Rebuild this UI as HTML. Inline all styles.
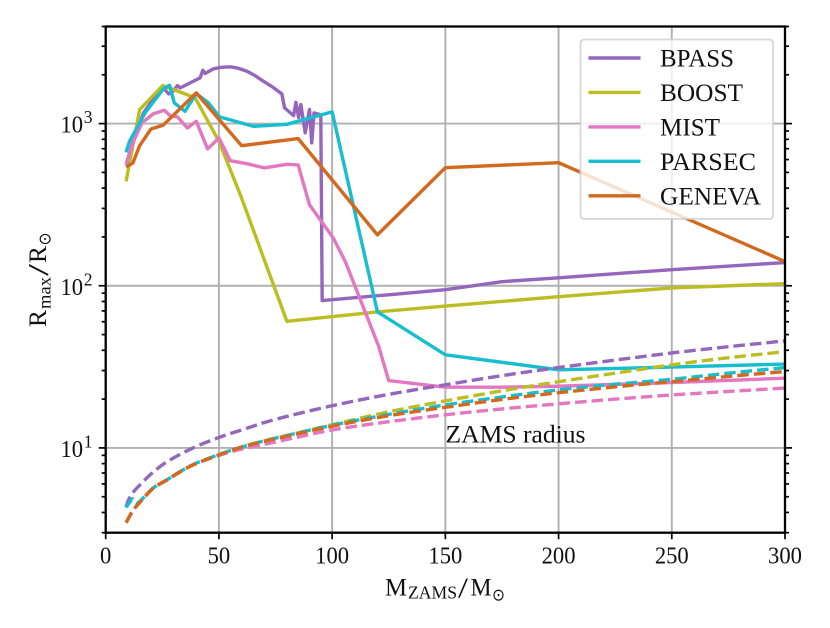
<!DOCTYPE html>
<html lang="en">
<head>
<meta charset="utf-8">
<title>Maximum radius versus ZAMS mass</title>
<style>
html,body{margin:0;padding:0;background:#fff;}
svg{display:block;font-family:"Liberation Serif","DejaVu Serif",serif;}
</style>
</head>
<body>
<svg id="chart" xmlns="http://www.w3.org/2000/svg" width="830" height="628" viewBox="0 0 830 628"></svg>
<script>
const xTicks = [0, 50, 100, 150, 200, 250, 300];
const yDecades = [1, 2, 3];
const yMinorFactors = [2, 3, 4, 5, 6, 7, 8, 9];
const xLimits = [0, 300];
const yLimits = [3, 3970];

const seriesNames = ['BPASS', 'BOOST', 'MIST', 'PARSEC', 'GENEVA'];

const bpassMass = [9, 12.3, 16.7, 21.9, 25.5, 27.8, 29.2, 31.7, 32.9, 41.7, 42.9, 43.9, 47.6, 51, 55, 58.5, 62.4, 66, 69.7, 74, 77.8, 79, 83, 84, 85.2, 86.2, 88.1, 90, 91, 92, 94.7, 95, 95.6, 125, 150, 175, 200, 250, 300];
const bpassRmax = [558, 797, 1164, 1474, 1660, 1525, 1548, 1716, 1660, 1914, 2133, 2036, 2178, 2225, 2240, 2195, 2104, 1975, 1823, 1670, 1525, 1250, 1120, 1353, 1089, 1310, 877, 1220, 760, 1164, 1136, 1100, 81, 88, 94.5, 106, 112, 125.7, 139];
const boostMass = [9, 15, 25.2, 29.2, 39.5, 50, 60, 80, 120, 150, 200, 250, 300];
const boostRmax = [440, 1220, 1716, 1637, 1443, 778, 348, 60.4, 69, 75, 85.6, 97, 103];
const mistMass = [9, 12.3, 16, 21, 25.9, 28.4, 31.7, 36.1, 40, 45, 50, 55, 62.4, 70, 80, 85, 90, 100.5, 105.8, 120.4, 125, 150, 175, 200, 250, 300];
const mistRmax = [558, 778, 1010, 1148, 1208, 1120, 1100, 940, 1033, 698, 816, 591, 566, 533, 561, 556, 316, 197, 141, 43, 26, 23.7, 23.7, 24, 25.3, 26.9];
const parsecMass = [9, 10.5, 17.4, 25.5, 28.2, 30.3, 35, 40, 45.4, 50.3, 65.3, 80, 100, 120, 150, 200, 250, 300];
const parsecRmax = [665, 778, 1164, 1637, 1724, 1342, 1191, 1532, 1342, 1100, 962, 990, 1181, 69, 37.5, 30.3, 31.5, 32.9];
const genevaMass = [9, 12, 15, 20, 25.3, 40, 60, 85, 120, 150, 200, 300];
const genevaRmax = [541, 571, 731, 927, 976, 1547, 731, 808, 206, 535, 574, 141];

const bpassZamsMass = [9, 10, 12, 14, 16.6, 20, 27, 38.6, 50, 60, 75, 100, 125, 150, 175, 200, 225, 250, 275, 300];
const bpassZamsR = [4.3, 4.75, 5.3, 5.7, 6.2, 6.9, 8.2, 10, 11.6, 12.9, 15, 18.2, 21.4, 24.5, 27.9, 31.3, 34.8, 38.5, 42.1, 45.7];
const boostZamsMass = [9, 12, 15, 21, 27, 33, 39.5, 50, 60.8, 74, 100, 125, 150, 175, 200, 225, 250, 275, 300];
const boostZamsR = [3.46, 4.1, 4.6, 5.64, 6.34, 7.14, 7.96, 9.05, 10.2, 11.4, 13.9, 16.7, 19.5, 22.5, 25.6, 28.9, 32.5, 36, 39.2];
const mistZamsMass = [9, 12, 15, 21, 27, 33, 39.5, 50, 60.8, 74, 100, 125, 150, 175, 200, 225, 250, 275, 300];
const mistZamsR = [3.46, 4.1, 4.6, 5.64, 6.34, 7.14, 7.96, 9, 9.9, 10.8, 12.9, 14.5, 16, 17.4, 18.7, 20, 21.2, 22.3, 23.4];
const parsecZamsMass = [9, 10.5, 12, 14, 21, 27, 33, 39.5, 50, 60.8, 74, 100, 125, 150, 175, 200, 225, 250, 275, 300];
const parsecZamsR = [4.3, 4.6, 4.85, 4.56, 5.66, 6.36, 7.16, 8, 9.1, 10.2, 11.4, 13.8, 16.1, 18.4, 20.6, 22.8, 24.7, 26.5, 28.9, 31.3];
const genevaZamsMass = [9, 12, 15, 21, 27, 33, 39.5, 50, 60.8, 74, 100, 125, 150, 175, 200, 225, 250, 275, 300];
const genevaZamsR = [3.46, 4.1, 4.6, 5.64, 6.34, 7.14, 7.96, 9.05, 10.2, 11.3, 13.6, 15.8, 17.8, 19.9, 21.9, 23.8, 25.6, 27.6, 29.6];

const NS = 'http://www.w3.org/2000/svg';
const svg = document.getElementById('chart');
const plotLeft = 105.7, plotRight = 785, plotTop = 26.5, plotBottom = 532.7;
const xScale = v => plotLeft + (v - xLimits[0]) / (xLimits[1] - xLimits[0]) * (plotRight - plotLeft);
const yScale = v => plotBottom - (Math.log10(v) - Math.log10(yLimits[0])) / (Math.log10(yLimits[1]) - Math.log10(yLimits[0])) * (plotBottom - plotTop);

function make(tag, attrs, parent) {
  const el = document.createElementNS(NS, tag);
  for (const k in attrs) el.setAttribute(k, attrs[k]);
  (parent || svg).appendChild(el);
  return el;
}
function pointsOf(xs, ys) {
  return xs.map((x, i) => xScale(x).toFixed(2) + ',' + yScale(ys[i]).toFixed(2)).join(' ');
}
function smoothPath(xs, ys) {
  const p = xs.map((x, i) => [xScale(x), yScale(ys[i])]);
  let d = 'M' + p[0][0].toFixed(2) + ' ' + p[0][1].toFixed(2);
  for (let i = 0; i < p.length - 1; i++) {
    const a = p[Math.max(i - 1, 0)], b = p[i], c = p[i + 1], e = p[Math.min(i + 2, p.length - 1)];
    const c1x = b[0] + (c[0] - a[0]) / 6, c1y = b[1] + (c[1] - a[1]) / 6;
    const c2x = c[0] - (e[0] - b[0]) / 6, c2y = c[1] - (e[1] - b[1]) / 6;
    d += 'C' + c1x.toFixed(2) + ' ' + c1y.toFixed(2) + ' ' + c2x.toFixed(2) + ' ' + c2y.toFixed(2) + ' ' + c[0].toFixed(2) + ' ' + c[1].toFixed(2);
  }
  return d;
}

/* grid */
const grid = make('g', {stroke: '#b0b0b0', 'stroke-width': 1.9, fill: 'none'});


xTicks.slice(1, -1).forEach(t => {
  const l = make('line', {x1: xScale(t), x2: xScale(t), y1: plotTop, y2: plotBottom}, grid);
  
  
});
yDecades.forEach(d => {
  const l = make('line', {x1: plotLeft, x2: plotRight, y1: yScale(Math.pow(10, d)), y2: yScale(Math.pow(10, d))}, grid);
  
  
});

/* series */
const modelSeries = [
  {key: 'bpass', color: '#9467bd', xs: bpassMass, ys: bpassRmax, zx: bpassZamsMass, zy: bpassZamsR},
  {key: 'boost', color: '#bcbd22', xs: boostMass, ys: boostRmax, zx: boostZamsMass, zy: boostZamsR},
  {key: 'mist', color: '#e377c2', xs: mistMass, ys: mistRmax, zx: mistZamsMass, zy: mistZamsR},
  {key: 'parsec', color: '#17becf', xs: parsecMass, ys: parsecRmax, zx: parsecZamsMass, zy: parsecZamsR},
  {key: 'geneva', color: '#d2691e', xs: genevaMass, ys: genevaRmax, zx: genevaZamsMass, zy: genevaZamsR}
];
modelSeries.forEach(s => {
  const solid = make('polyline', {points: pointsOf(s.xs, s.ys), fill: 'none', stroke: s.color, 'stroke-width': 3.4, 'stroke-linejoin': 'round'});
  
  
});
modelSeries.forEach(s => {
  const dashed = make('path', {d: smoothPath(s.zx, s.zy), fill: 'none', stroke: s.color, 'stroke-width': 3.4, 'stroke-dasharray': '11.5 5'});
  
  
});

/* axis ticks */
const ticks = make('g', {stroke: '#000', 'stroke-width': 1.7, fill: 'none'});


xTicks.forEach(t => {
  make('line', {x1: xScale(t), x2: xScale(t), y1: plotBottom, y2: plotBottom + 6.5}, ticks);
});
[0, 1, 2, 3].forEach(d => {
  const major = Math.pow(10, d);
  const all = [[major, 7]].concat(yMinorFactors.map(f => [f * major, 4]));
  all.forEach(pair => {
    if (pair[0] < yLimits[0] - 1e-9 || pair[0] > yLimits[1] * 1.01) return;
    const y = Math.min(plotBottom, Math.max(plotTop, yScale(pair[0])));
    make('line', {x1: plotLeft - pair[1], x2: plotLeft, y1: y, y2: y}, ticks);
    make('line', {x1: plotRight, x2: plotRight + pair[1], y1: y, y2: y}, ticks);
  });
});

/* spines */
const frame = make('rect', {x: plotLeft, y: plotTop, width: plotRight - plotLeft, height: plotBottom - plotTop, fill: 'none', stroke: '#000', 'stroke-width': 2.3});



/* tick labels */
xTicks.forEach(t => {
  const str = String(t);
  const w = str.length * 11.3;
  const lab = make('text', {x: xScale(t) - w / 2, y: 563.5, 'font-size': 24.5, textLength: w, lengthAdjust: 'spacingAndGlyphs', fill: '#111'});
  lab.textContent = str;
  
  
});
yDecades.forEach(d => {
  const y = yScale(Math.pow(10, d));
  const base = make('text', {x: 60.5, y: y + 9, 'font-size': 24.5, textLength: 22.6, lengthAdjust: 'spacingAndGlyphs', fill: '#111'});
  base.textContent = '10';
  
  
  const sup = make('text', {x: 83.8, y: y - 0.5, 'font-size': 17.5, fill: '#111'});
  sup.textContent = String(d);
  
  
});

/* legend */
const legend = make('g', {});


const box = make('rect', {x: 580.5, y: 39.5, width: 192.5, height: 179.5, rx: 3.5, fill: '#fff', 'fill-opacity': 0.8, stroke: '#cccccc', 'stroke-opacity': 0.8, 'stroke-width': 1.7}, legend);


const legendWidths = [74, 83, 60, 96, 101];
modelSeries.forEach((s, i) => {
  const yLine = 58 + i * 34.45;
  const h = make('line', {x1: 588.5, x2: 640.5, y1: yLine, y2: yLine, stroke: s.color, 'stroke-width': 3.4}, legend);
  
  
  const t = make('text', {x: 660, y: yLine + 8.7, 'font-size': 25, textLength: legendWidths[i], lengthAdjust: 'spacingAndGlyphs', fill: '#111'}, legend);
  t.textContent = seriesNames[i];
  
  
});
</script>
<script>
/* static annotations and axis titles */
(function () {
  const root = document.getElementById('chart');
  root.insertAdjacentHTML('beforeend',
    '<text x="445.5" y="442.7" font-size="25" textLength="140" lengthAdjust="spacingAndGlyphs" fill="#111">ZAMS radius</text>' +
    '<g fill="#111">' +
      '<text x="385" y="595.7" font-size="25" textLength="22" lengthAdjust="spacingAndGlyphs">M</text>' +
      '<text x="408" y="598.5" font-size="17.5" textLength="49" lengthAdjust="spacingAndGlyphs">ZAMS</text>' +
      '<text x="458" y="597.5" font-size="28" textLength="10" lengthAdjust="spacingAndGlyphs">/</text>' +
      '<text x="470.5" y="595.7" font-size="25" textLength="21" lengthAdjust="spacingAndGlyphs">M</text>' +
      '<text x="492" y="600.5" font-size="17" textLength="13" lengthAdjust="spacingAndGlyphs" font-family="DejaVu Sans, sans-serif">\u2299</text>' +
    '</g>' +
    '<g fill="#111" transform="translate(46,327) rotate(-90)">' +
      '<text x="0" y="0" font-size="25" textLength="17" lengthAdjust="spacingAndGlyphs">R</text>' +
      '<text x="18" y="4.5" font-size="17.5" textLength="32" lengthAdjust="spacingAndGlyphs">max</text>' +
      '<text x="51" y="2" font-size="28" textLength="12" lengthAdjust="spacingAndGlyphs">/</text>' +
      '<text x="64" y="0" font-size="25" textLength="17" lengthAdjust="spacingAndGlyphs">R</text>' +
      '<text x="81.5" y="4.5" font-size="17" textLength="13" lengthAdjust="spacingAndGlyphs" font-family="DejaVu Sans, sans-serif">\u2299</text>' +
    '</g>');
})();
</script>
</body>
</html>
